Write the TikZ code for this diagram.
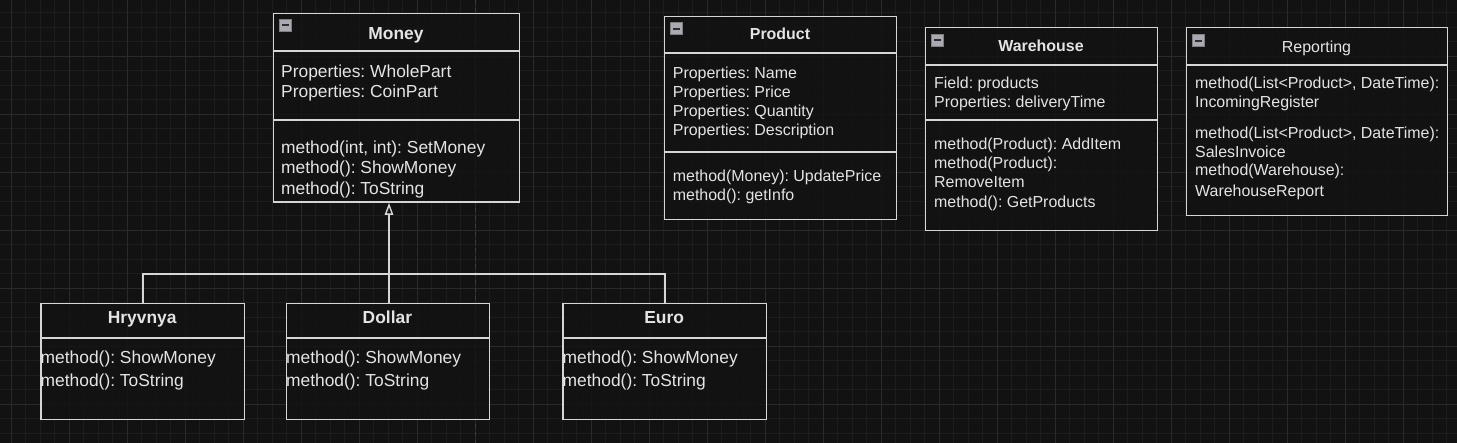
\documentclass[tikz,border=0pt]{standalone}
\usepackage{fontspec}
\setmainfont{Liberation Sans}
\usetikzlibrary{arrows.meta,calc}
\definecolor{bg}{HTML}{121212}
\definecolor{gmin}{HTML}{1D1D1D}
\definecolor{gmaj}{HTML}{2A2A2A}
\definecolor{pline}{HTML}{3C3C3C}
\definecolor{edgec}{HTML}{D6D6D6}
\definecolor{txtc}{HTML}{E4E4E4}
\definecolor{icf}{HTML}{AAAAB2}
\definecolor{icd}{HTML}{2E2E34}
\newcommand\dfs{\fontsize{17.4}{20}\selectfont\frenchspacing}
\newcommand\sfs{\fontsize{15.95}{19}\selectfont\frenchspacing}
\begin{document}
\begin{tikzpicture}[x=1pt,y=-1pt,
  umlbox/.style={draw=edgec, line width=1.4pt, fill=bg, fill opacity=0.8, anchor=north west, inner sep=0},
  sepline/.style={draw=edgec, line width=1.4pt},
  txt/.style={anchor=base west, inner sep=0, text=txtc, font=\dfs},
  ttl/.style={anchor=base, inner sep=0, text=txtc, font=\dfs\bfseries},
  stxt/.style={anchor=base west, inner sep=0, text=txtc, font=\sfs},
  sttl/.style={anchor=base, inner sep=0, text=txtc, font=\sfs\bfseries},
  sttlplain/.style={anchor=base, inner sep=0, text=txtc, font=\sfs},
  icon/.style={draw=#1, fill=icf, minimum size=12pt, inner sep=0, line width=0.8pt,
    path picture={\draw[icd, line width=1.8pt] ($(path picture bounding box.west)+(2.5,0)$) -- ($(path picture bounding box.east)+(-2.5,0)$);}},
  icon/.default=gray,
  gen/.style={draw=edgec, line width=1.4pt}
]
\useasboundingbox (0,0) rectangle (1457,443);
\fill[bg] (0,0) rectangle (1457,443);
\begin{scope}
\clip (0,0) rectangle (1457,443);
\foreach \i in {0,...,101}{\pgfmathsetmacro\gx{-3.2+14.5*\i}\draw[gmin, line width=0.8pt] (\gx,0) -- (\gx,443);}
\foreach \j in {0,...,31}{\pgfmathsetmacro\gy{-1.7+14.5*\j}\draw[gmin, line width=0.8pt] (0,\gy) -- (1457,\gy);}
\foreach \i in {0,...,25}{\pgfmathsetmacro\gx{11.3+58*\i}\draw[gmaj, line width=1pt] (\gx,0) -- (\gx,443);}
\foreach \j in {0,...,7}{\pgfmathsetmacro\gy{-1.7+58*\j}\draw[gmaj, line width=1pt] (0,\gy) -- (1457,\gy);}
\draw[pline, line width=1pt, dash pattern=on 4pt off 4pt] (475.3,0) -- (475.3,443);
\end{scope}

% Money
\node[umlbox, minimum width=246pt, minimum height=188.5pt] (money) at (273,13) {};
\draw[sepline] ($(money.north west)+(0,38)$) -- ($(money.north east)+(0,38)$);
\draw[sepline] ($(money.north west)+(0,107)$) -- ($(money.north east)+(0,107)$);
\node[icon=gray] (icmoney) at (285.3,25.3) {};
\node[ttl] (moneyt) at (396,39.5) {Money};
\node[txt] (money1) at (281,77.3) {Properties: WholePart};
\node[txt] (money2) at (281,97.7) {Properties: CoinPart};
\node[txt] (money3) at (281,153.3) {method(int, int): SetMoney};
\node[txt] (money4) at (281,173.3) {method(): ShowMoney};
\node[txt] (money5) at (281,194.3) {method(): ToString};

% Product
\node[umlbox, minimum width=232pt, minimum height=203pt] (product) at (664,16) {};
\draw[sepline] ($(product.north west)+(0,37)$) -- ($(product.north east)+(0,37)$);
\draw[sepline] ($(product.north west)+(0,136)$) -- ($(product.north east)+(0,136)$);
\node[icon=gray] (icproduct) at (676.3,28.7) {};
\node[sttl] (productt) at (780,40) {Product};
\node[stxt] (product1) at (672.7,78.3) {Properties: Name};
\node[stxt] (product2) at (672.7,97.3) {Properties: Price};
\node[stxt] (product3) at (672.7,116.3) {Properties: Quantity};
\node[stxt] (product4) at (672.7,135.5) {Properties: Description};
\node[stxt] (product5) at (672.7,181.7) {method(Money): UpdatePrice};
\node[stxt] (product6) at (672.7,200.7) {method(): getInfo};

% Warehouse
\node[umlbox, minimum width=232pt, minimum height=203pt] (warehouse) at (925,27) {};
\draw[sepline] ($(warehouse.north west)+(0,38)$) -- ($(warehouse.north east)+(0,38)$);
\draw[sepline] ($(warehouse.north west)+(0,93)$) -- ($(warehouse.north east)+(0,93)$);
\node[icon=gray] (icwarehouse) at (937.3,40.3) {};
\node[sttl] (warehouset) at (1041,51.7) {Warehouse};
\node[stxt] (warehouse1) at (934,88.3) {Field: products};
\node[stxt] (warehouse2) at (934,107.3) {Properties: deliveryTime};
\node[stxt] (warehouse3) at (934,150) {method(Product): AddItem};
\node[stxt] (warehouse4) at (934,169) {method(Product):};
\node[stxt] (warehouse5) at (934,188) {RemoveItem};
\node[stxt] (warehouse6) at (934,207.7) {method(): GetProducts};

% Reporting
\node[umlbox, minimum width=261pt, minimum height=188pt] (reporting) at (1186,27) {};
\draw[sepline] ($(reporting.north west)+(0,38)$) -- ($(reporting.north east)+(0,38)$);
\node[icon=gray] (icreporting) at (1198.7,40.8) {};
\node[sttlplain] (reportingt) at (1316.5,52.3) {Reporting};
\node[stxt] (reporting1) at (1195,89) {method(List<Product>, DateTime):};
\node[stxt] (reporting2) at (1195,107.7) {IncomingRegister};
\node[stxt] (reporting3) at (1195,139) {method(List<Product>, DateTime):};
\node[stxt] (reporting4) at (1195,157.7) {SalesInvoice};
\node[stxt] (reporting5) at (1195,176) {method(Warehouse):};
\node[stxt] (reporting6) at (1195,196.7) {WarehouseReport};

% Hryvnya
\node[umlbox, minimum width=203.7pt, minimum height=116pt] (hryvnya) at (40.3,303) {};
\draw[sepline] ($(hryvnya.north west)+(0,35)$) -- ($(hryvnya.north east)+(0,35)$);
\node[ttl] (hryvnyat) at (142.2,324) {Hryvnya};
\node[txt] (hryvnya1) at (40.5,364) {method(): ShowMoney};
\node[txt] (hryvnya2) at (40.5,386.7) {method(): ToString};

% Dollar
\node[umlbox, minimum width=203.3pt, minimum height=116pt] (dollar) at (285.7,303) {};
\draw[sepline] ($(dollar.north west)+(0,35)$) -- ($(dollar.north east)+(0,35)$);
\node[ttl] (dollart) at (387.4,324) {Dollar};
\node[txt] (dollar1) at (285.9,364) {method(): ShowMoney};
\node[txt] (dollar2) at (285.9,386.7) {method(): ToString};

% Euro
\node[umlbox, minimum width=203.7pt, minimum height=116pt] (euro) at (562.3,303) {};
\draw[sepline] ($(euro.north west)+(0,35)$) -- ($(euro.north east)+(0,35)$);
\node[ttl] (eurot) at (664.2,324) {Euro};
\node[txt] (euro1) at (562.5,364) {method(): ShowMoney};
\node[txt] (euro2) at (562.5,386.7) {method(): ToString};

% generalisation connectors
\coordinate (jn) at (389,274);
\draw[gen] (hryvnya.north) |- (jn);
\draw[gen] (euro.north) |- (jn);
\draw[gen, -{Triangle[open, length=12pt, width=8.5pt, line width=1.4pt]}] (jn |- dollar.north) -- (jn |- money.south);
\end{tikzpicture}
\end{document}
